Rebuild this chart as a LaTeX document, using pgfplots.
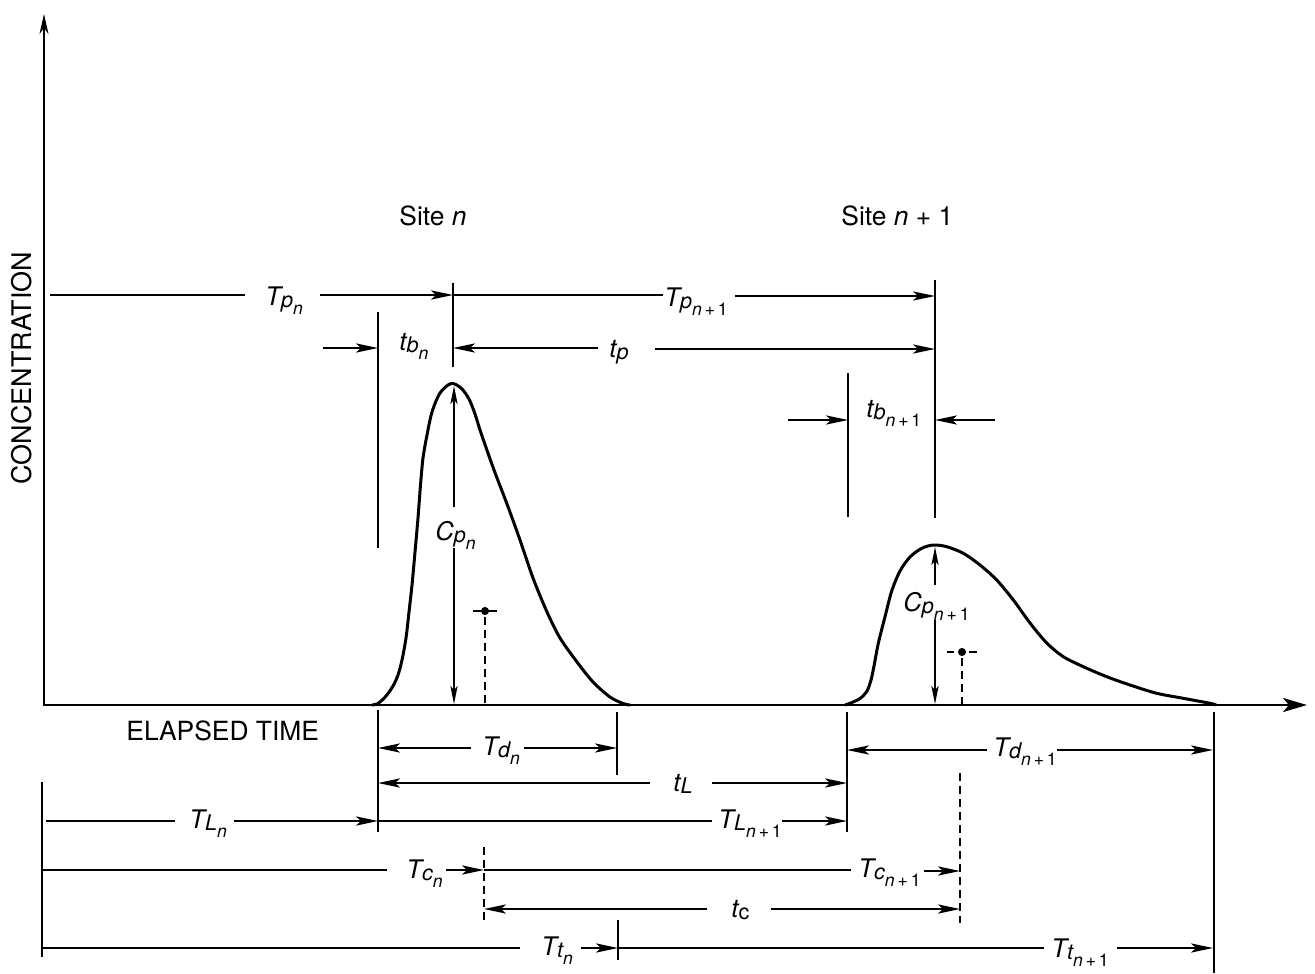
\documentclass[border=0pt]{standalone}
\usepackage{pgfplots}
\pgfplotsset{compat=1.18}
\usepackage{fontspec}
\setmainfont{TeX Gyre Heros}
\usetikzlibrary{arrows.meta}
\newcommand{\sa}[1]{\raisebox{-1.4pt}{\fontsize{10.8}{10.8}\selectfont #1}}
\newcommand{\sbb}[1]{\raisebox{-3.2pt}{\fontsize{8.8}{8.8}\selectfont #1}}
\newcommand{\np}{n\,\upshape+\,1}
\tikzset{
 ln/.style={black, line width=0.8pt},
 ar/.style={ln, -{Stealth[length=11pt,width=4.6pt,inset=2.5pt]}},
 vr/.style={ln, -{Stealth[length=9pt,width=3.6pt,inset=2pt]}},
 dsh/.style={ln, dash pattern=on 4pt off 2.5pt},
 lab/.style={anchor=base west, inner sep=0pt, font=\fontsize{12.8}{14}\selectfont},
 crv/.style={black, line width=1.5pt, smooth, tension=0.5, line join=round}
}
\begin{document}
\begin{tikzpicture}
\begin{axis}[width=657.5pt,height=486.5pt,scale only axis,
  xmin=0,xmax=1315,ymin=0,ymax=973,y dir=reverse,
  axis lines=none,clip=false]
% frame for bounding box
\addplot[draw=none] coordinates {(0,0) (1315,973)};
% axes
\addplot[black, line width=1pt, -{Stealth[length=10pt,width=4.5pt,inset=3pt]}] coordinates {(44,705) (44,14)};
\addplot[black, line width=1.4pt, -{Stealth[length=12pt,width=7pt,inset=3pt]}] coordinates {(43,705) (1307,705)};
% curve site n
\addplot[crv] coordinates {
(372,705) (378,703.5) (386,696) (393,686) (398,675) (402,660) (406,638) (409,612)
(412,585) (415,552) (418,518) (420.5,485) (423,458) (427,435) (432,412) (440,393)
(451,383.5) (461,388) (469,399) (475,414) (481,433) (494,470) (507,504) (520,540)
(533,578) (547,612) (560,638) (577,662) (593,682) (610,697) (623,703.5) (630,705)};
% curve site n+1
\addplot[crv] coordinates {
(845,705) (850,703.3) (860,698.5) (867,691) (871,680) (874,666) (878.3,643.3) (885,616.7)
(891.7,591) (900,571) (910,557) (921.7,548.3) (933.3,545) (946.7,546.7) (963.3,553.3)
(980,565) (996.7,580) (1013.3,600) (1030,623) (1046.7,643) (1063.3,656.7)
(1083.3,666.7) (1106.7,676.7) (1130,685) (1156.7,693.3) (1183.3,698.3) (1210,703.3) (1216,705)};
% ---- top dimension lines
\addplot[ln] coordinates {(50,295) (245,295)};
\addplot[ar] coordinates {(320,295) (453,295)};
\addplot[ln] coordinates {(453,295) (663,295)};
\addplot[ar] coordinates {(735,296) (935,296)};
\addplot[ln] coordinates {(453,283) (453,367)};
\addplot[ln] coordinates {(935,280) (935,518)};
\addplot[ar] coordinates {(323,348) (378,348)};
\addplot[ln] coordinates {(378,312) (378,548)};
\addplot[ar] coordinates {(598,348) (453,348)};
\addplot[ar] coordinates {(655,349) (935,349)};
\addplot[ar] coordinates {(788,420) (848,420)};
\addplot[ar] coordinates {(995,420) (935,420)};
\addplot[ln] coordinates {(848,373) (848,517)};
% Cp arrows
\addplot[vr] coordinates {(454,507) (454,386)};
\addplot[vr] coordinates {(454,548) (454,704)};
\addplot[vr] coordinates {(935,585) (935,547)};
\addplot[vr] coordinates {(935,620) (935,704)};
% centroids
\addplot[dsh] coordinates {(485,617) (485,705)};
\addplot[ln] coordinates {(473,611) (497,611)};
\addplot[black, only marks, mark=*, mark size=1.8pt] coordinates {(485,611)};
\addplot[dsh] coordinates {(962,658) (962,705)};
\addplot[ln] coordinates {(947,652) (954,652)};
\addplot[ln] coordinates {(969,652) (977,652)};
\addplot[black, only marks, mark=*, mark size=1.8pt] coordinates {(962,652)};
% ---- bottom dimension lines
\addplot[ln] coordinates {(378,710) (378,832)};
\addplot[ln] coordinates {(617,712) (617,775)};
\addplot[ar] coordinates {(471,748) (378,748)};
\addplot[ar] coordinates {(524,748) (617,748)};
\addplot[ar] coordinates {(650,783) (378,783)};
\addplot[ar] coordinates {(712,783) (847,783)};
\addplot[ln] coordinates {(847,712) (847,832)};
\addplot[ln] coordinates {(1214,712) (1214,973)};
\addplot[ar] coordinates {(987,750) (847,750)};
\addplot[ar] coordinates {(1057,750) (1213,750)};
\addplot[dsh] coordinates {(960,773) (960,923)};
\addplot[ln] coordinates {(46,821) (175,821)};
\addplot[ar] coordinates {(234,821) (378,821)};
\addplot[ln] coordinates {(378,821) (712,821)};
\addplot[ar] coordinates {(782,821) (847,821)};
\addplot[ln] coordinates {(42,782) (42,957)};
\addplot[ln] coordinates {(42,870) (387,870)};
\addplot[ar] coordinates {(446,870) (484,870)};
\addplot[ln] coordinates {(484,870) (851,870)};
\addplot[ar] coordinates {(924,871) (960,871)};
\addplot[dsh] coordinates {(484,847) (484,923)};
\addplot[ar] coordinates {(707,909) (484,909)};
\addplot[ar] coordinates {(771,909) (960,909)};
\addplot[ln] coordinates {(42,948) (520,948)};
\addplot[ar] coordinates {(581,948) (618,948)};
\addplot[ln] coordinates {(618,920) (618,960)};
\addplot[ln] coordinates {(618,948) (1044,948)};
\addplot[ar] coordinates {(1117,948) (1213,948)};
% ---- labels
\node[rotate=90, inner sep=0pt, font=\fontsize{13.5}{15}\selectfont] at (axis cs:22,368) {CONCENTRATION};
\node[lab, font=\fontsize{13.2}{15}\selectfont] at (axis cs:126,740) {ELAPSED TIME};
\node[lab, font=\fontsize{13.2}{15}\selectfont] at (axis cs:399,225) {Site \textit{n}};
\node[lab, font=\fontsize{13.2}{15}\selectfont] at (axis cs:841,225) {Site \textit{n} + 1};
\node[lab] at (axis cs:265,305) {\itshape T\sa{p\sbb{n}}};
\node[lab] at (axis cs:664,306) {\itshape T\sa{p\sbb{\np}}};
\node[lab] at (axis cs:399,350) {\itshape t\sa{b\sbb{n}}};
\node[lab] at (axis cs:609,357) {\itshape t\sa{p}};
\node[lab] at (axis cs:866,417) {\itshape t\sa{b\sbb{\np}}};
\node[lab] at (axis cs:435,540) {\itshape C\sa{p\sbb{n}}};
\node[lab] at (axis cs:903,611) {\itshape C\sa{p\sbb{\np}}};
\node[lab] at (axis cs:482,755) {\itshape T\sa{d\sbb{n}}};
\node[lab] at (axis cs:673,791) {\itshape t\sa{L}};
\node[lab] at (axis cs:993,756) {\itshape T\sa{d\sbb{\np}}};
\node[lab] at (axis cs:189,828) {\itshape T\sa{L\sbb{n}}};
\node[lab] at (axis cs:718,828) {\itshape T\sa{L\sbb{\np}}};
\node[lab] at (axis cs:406,878) {\itshape T\sa{c\sbb{n}}};
\node[lab] at (axis cs:858,877) {\itshape T\sa{c\sbb{\np}}};
\node[lab] at (axis cs:731,917) {\itshape t\sa{\upshape c}};
\node[lab] at (axis cs:541,955) {\itshape T\sa{t\sbb{n}}};
\node[lab] at (axis cs:1051,957) {\itshape T\sa{t\sbb{\np}}};
\end{axis}
\end{tikzpicture}
\end{document}
